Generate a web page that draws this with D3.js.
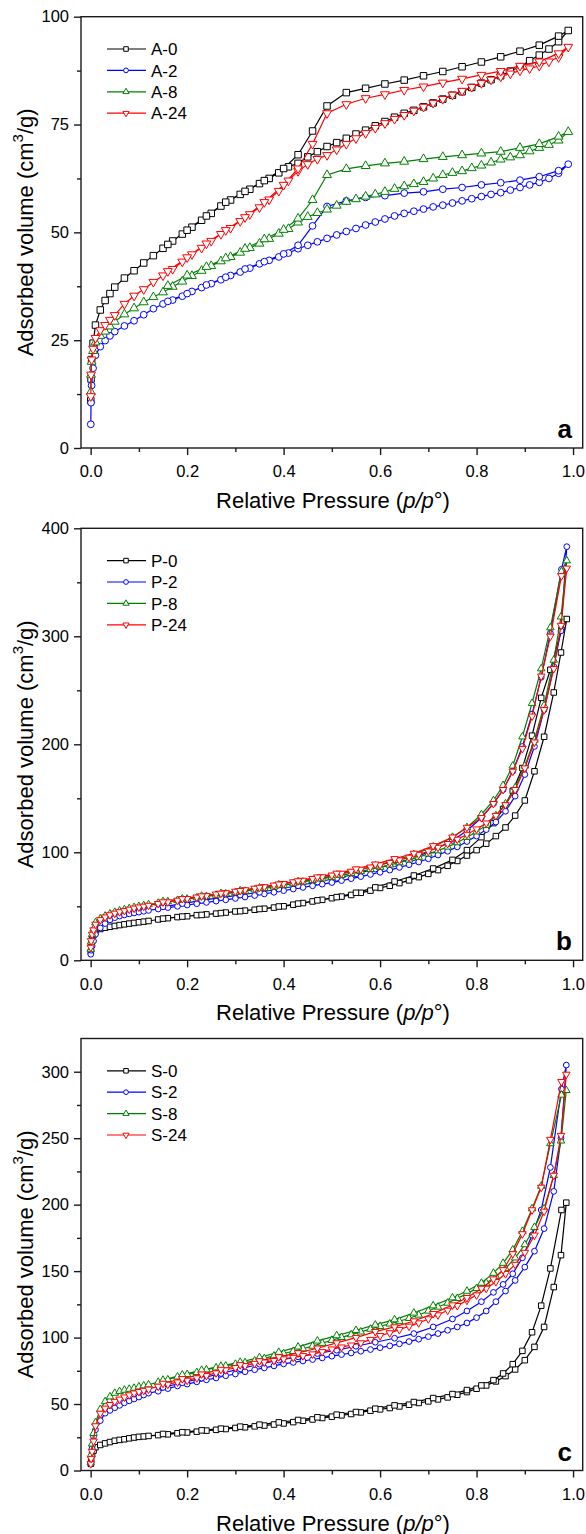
<!DOCTYPE html>
<html><head><meta charset="utf-8">
<script src="https://cdn.jsdelivr.net/npm/d3@7"></script>
<style>
body{margin:0;background:#fff}
svg{display:block}
text{font-family:"Liberation Sans",Arial,Helvetica,sans-serif;fill:#000}
</style>
</head><body>
<svg id="chart" width="586" height="1534"></svg>
<script>
// ---------------- DATA ----------------
// Panel a (A samples)
const adsP_A = [0.0003,0.0008,0.002,0.005,0.01,0.02,0.03,0.04,0.05,0.07,0.09,0.11,0.13,0.15,0.17,0.19,0.21,0.23,0.25,0.27,0.29,0.31,0.33,0.35,0.37,0.39,0.41,0.43,0.45,0.47,0.49,0.51,0.53,0.55,0.57,0.59,0.61,0.63,0.65,0.67,0.69,0.71,0.73,0.75,0.77,0.79,0.81,0.83,0.85,0.87,0.89,0.91,0.93,0.95,0.97,0.99];
const desP_A = [0.97,0.93,0.89,0.85,0.81,0.77,0.73,0.69,0.65,0.61,0.57,0.53,0.49,0.46,0.43,0.40,0.36,0.32,0.28,0.24,0.20,0.16];
const A0_ads = [11,16,20.5,24.3,28.5,32,34.2,35.8,37.3,39.4,41.1,42.9,44.6,46.3,48.0,49.6,51.2,52.8,54.4,56.1,57.5,58.8,60.0,61.3,62.5,63.8,65.2,66.0,67.5,68.7,69.9,70.8,71.8,72.8,73.7,74.7,75.7,76.7,77.6,78.3,79.1,80.0,80.9,81.8,82.6,83.6,84.6,85.4,86.3,87.4,88.4,89.8,91.1,92.5,94.2,96.8];
const A0_des = [95.5,93.4,92.0,90.7,89.5,88.4,87.3,86.3,85.3,84.4,83.4,82.4,79.3,73.5,68.0,64.8,62.0,59.5,57.0,53.8,50.5,47.2];
const A2_ads = [5.5,10.5,14.5,18.5,21.5,23.5,24.9,26.0,27.0,28.3,29.5,30.9,32.3,33.4,34.3,35.2,36.3,37.2,38.1,39.0,40.0,40.8,41.7,42.7,43.5,44.3,45.2,46.2,47.0,47.8,48.6,49.4,50.2,50.9,51.7,52.4,53.1,53.8,54.4,54.9,55.4,55.9,56.3,56.8,57.3,57.8,58.3,58.8,59.2,59.8,60.4,61.0,61.6,62.5,63.7,65.8];
const A2_des = [64.3,62.9,62.1,61.5,61.0,60.4,60.0,59.4,59.1,58.5,58.1,57.3,56.0,51.5,47.0,45.0,43.2,41.5,39.6,37.8,35.8,34.0];
const A8_ads = [13,17,20,22.5,24.5,26,27,28.2,29.3,31.0,32.4,33.8,35.0,36.1,37.4,38.6,39.9,41.1,42.2,43.3,44.3,45.3,46.4,47.4,48.5,49.7,50.8,52.3,53.6,54.5,55.3,56.2,57.1,57.7,58.3,58.8,59.4,60.1,60.7,61.2,61.7,62.5,63.3,63.8,64.2,64.9,65.5,66.2,66.9,67.4,67.9,68.8,69.6,70.3,71.3,73.3];
const A8_des = [72.2,70.5,69.6,68.7,68.3,67.9,67.5,67.0,66.4,66.0,65.4,64.7,63.3,57.5,53.2,50.6,48.4,46.2,44.0,42.0,40.0,37.6];
const A24_ads = [12,17,20.5,23,25.5,27.3,28.5,29.7,30.8,33.4,35.3,36.8,38.5,40.0,41.5,43.2,44.9,46.4,48.0,49.6,51.0,52.6,54.2,55.8,57.6,59.6,62.0,64.2,65.8,67.0,67.9,69.2,70.5,71.8,73.0,74.2,75.3,76.3,77.2,78.2,79.1,80.0,80.9,81.9,82.8,83.7,84.6,85.4,86.1,86.8,87.5,88.0,88.6,89.6,90.6,93.0];
const A24_des = [91.5,89.6,88.6,87.4,86.5,85.6,84.7,83.8,83.0,82.0,81.1,79.7,77.6,70.5,64.8,61.0,57.0,53.5,50.5,47.4,44.2,41.0];

// Panel b (P samples)
const adsP_P = [0.0003,0.001,0.003,0.006,0.01,0.02,0.03,0.04,0.05,0.06,0.07,0.08,0.09,0.10,0.11,0.12,0.14,0.16,0.18,0.20,0.22,0.24,0.26,0.28,0.30,0.32,0.34,0.36,0.38,0.40,0.42,0.44,0.46,0.48,0.50,0.52,0.54,0.56,0.58,0.60,0.62,0.64,0.66,0.68,0.70,0.72,0.74,0.76,0.78,0.80,0.82,0.84,0.86,0.88,0.90,0.92,0.94,0.96,0.975,0.987];
const desP_P = [0.976,0.953,0.934,0.915,0.895,0.875,0.855,0.835,0.81,0.78,0.75,0.71,0.67,0.63,0.59,0.55,0.51,0.47,0.43,0.39,0.35,0.31,0.27,0.23,0.19,0.15];
const P0_ads = [8,15,20,23.5,26.5,29,30.2,31,31.8,32.6,33.3,34,34.6,35.2,35.8,36.4,37.8,39.0,40.0,40.8,41.8,42.5,43.2,44.2,45.2,46.0,46.8,47.8,48.8,50.0,51.5,53.0,54.5,56,57.5,59,60.5,62.5,64.5,67,69,71.5,74,77,80,83.5,87.5,92,97,102,108,115,123,134,148,175,207,248,285,316];
const P0_des = [306,269,243,208,178,157,140,127,114,102,93,85,78.5,73,67.5,62.5,58.5,55.5,52.5,49.8,47.5,45.5,43.7,42,40.5,38.6];
const P2_ads = [5.6,9.3,13.3,17.9,24,30,34,37.5,39.5,41,42,43,43.8,44.6,45.4,46.2,47.5,48.8,50.0,51.2,52.4,53.6,54.8,56,57.3,58.6,60,61.5,63,64.5,66,67.5,69,70.5,72,73.8,75.6,77.5,79.5,81.5,83.5,86,88.5,91,94,97.5,101,105,110,115,121,128,138,152,172,198,232,272,305,383];
const P2_des = [362,303,262,228,198,175,158,145,132,120,111,102,95,89.5,84.5,80,76,72.5,69,66,63,60.5,58,55.5,52.5,49.5];
const P8_ads = [10,17,24,29,34.9,38.5,41,43,44.5,45.8,47,48,49,50,50.8,51.6,53,54.4,55.6,56.8,58,59.2,60.4,61.6,62.8,64,65.3,66.6,68,69.5,71,72.5,74,75.5,77,78.7,80.5,82.3,84.2,86.2,88.3,90.5,93,95.5,98.5,101.5,105,109,114,119,125,134,145,160,180,204,236,278,318,370];
const P8_des = [360,308,270,238,207,180,162,148,135,123,114,105,98,92.5,87.5,83,79,75.5,73,70,67,64.5,62,59.5,57,54.5];
const P24_ads = [12,18,24,28,33.3,37.5,40,42,43.5,44.8,46,47.2,48.2,49.2,50,50.8,52.4,54,55.5,57,58.4,59.8,61.2,62.5,63.8,65.2,66.6,68,69.5,71,72.5,74,75.6,77.2,78.8,80.5,82.3,84.2,86.2,88.3,90.5,92.8,95.3,98,101,104.5,108,112,116.5,121.5,127,134,144,158,178,202,232,270,310,363];
const P24_des = [356,300,263,226,196,175,158,145,132,123,114,106,99,94,89,84.5,80.5,77,73.5,70.5,67.5,64.5,62,59.5,57,54];

// Panel c (S samples)
const adsP_S = [0.0003,0.001,0.003,0.006,0.01,0.02,0.03,0.04,0.05,0.06,0.07,0.08,0.09,0.10,0.11,0.12,0.14,0.16,0.18,0.20,0.22,0.24,0.26,0.28,0.30,0.32,0.34,0.36,0.38,0.40,0.42,0.44,0.46,0.48,0.50,0.52,0.54,0.56,0.58,0.60,0.62,0.64,0.66,0.68,0.70,0.72,0.74,0.76,0.78,0.80,0.82,0.84,0.86,0.88,0.90,0.92,0.94,0.96,0.975,0.986];
const desP_S = [0.976,0.953,0.934,0.915,0.895,0.875,0.855,0.835,0.81,0.78,0.75,0.71,0.67,0.63,0.59,0.55,0.51,0.47,0.43,0.39,0.35,0.31,0.27,0.23,0.19,0.15];
const S0_ads = [5,8,12,15,17.5,19.2,20.4,21.4,22.4,23,23.5,24.2,24.8,25.3,25.6,26,26.6,27.2,28,28.6,29.2,30,30.6,31.2,32,32.5,33.2,33.8,34.6,35.4,36.4,37.4,38.4,39.5,40.5,41.5,42.5,43.7,45,46,47,48.2,49.5,50.8,52,53.5,55,57,59,61.5,64,67,71,76,83,93,108,138,162,201.5];
const S0_des = [196,152,124,104,90,80,73,68,64,60.5,57.5,54.5,51.5,49,46.5,44,42,40,38,36.2,34.5,33,31.5,30.2,28.8,27.5];
const S2_ads = [5,10,16.7,25.5,30.6,37.5,43.1,45.2,47.2,49,50.9,52.4,53.8,55.3,56.8,58.2,59.6,61.6,63.6,65,66.7,68.2,69.6,71.3,72.6,74.3,75.8,77.2,78.7,80.2,81.3,82.4,83.5,84.7,86,87.2,88.4,89.7,91,92.4,93.8,95.3,97,98.8,100.7,103,105.5,108,111,115,120,127,135,143,153,165,182,210,250,305];
const S2_des = [287,228,196,177,160,148,140,134,127,120,114,108,103,99.5,96.5,93.5,90.5,88,85.5,83,80,76.5,73,69.5,66,62.5];
const S8_ads = [6,12,20,28,36,46,51.9,55.5,58.2,59.5,60.5,61.2,62,63,63.8,64.5,66.5,68.3,70.5,72.3,73.8,75.8,77.3,78.7,80,81.2,82.5,84.3,86.2,88,89.7,91.6,93.6,95.8,98,100.2,102.2,104.3,106.4,108.5,110.3,112.3,114.5,117,120,123,126,129.5,133,137,141,146,152,160,170,183,197,222,248,286];
const S8_des = [282.5,246,214,197,180,166,156,148.5,141,135,130,124,118.5,113.5,109.5,105.5,101.5,97.5,93,89,85,81.5,78.5,75.5,72,68];
const S24_ads = [5,9,14.3,22,33.5,43,46.8,49.5,51.9,53.6,55.2,56.8,58.2,59.3,60.2,61.1,63.3,64.8,66.5,67.8,69.6,71.4,73.4,75.6,77.3,78.8,80.5,81.5,82.7,83.9,85,86.3,87.6,89.3,91.3,92.8,94.3,96,98.5,101.4,103.5,106,108.5,111,114,117,120.5,124,128,132,137,142,148,155,164,177,195,222,252,298];
const S24_des = [292.5,249,213,196,178,163,151,144,137,130,124.5,118,112.5,108,104.5,100,96,92,88.5,85.5,82.5,79.5,76,72.5,69,65.5];

// Labels / ticks
const namesA = ["A-0","A-2","A-8","A-24"];
const namesP = ["P-0","P-2","P-8","P-24"];
const namesS = ["S-0","S-2","S-8","S-24"];
const xTicks = [0,0.2,0.4,0.6,0.8,1.0];
const xMinor = [0.1,0.3,0.5,0.7,0.9];
const yTicksA = [0,25,50,75,100];
const yMinorA = [12.5,37.5,62.5,87.5];
const yTicksP = [0,100,200,300,400];
const yMinorP = [50,150,250,350];
const yTicksS = [0,50,100,150,200,250,300];
const yMinorS = [25,75,125,175,225,275];

// ---------------- STYLE / LAYOUT ----------------
const colors = ["#000000","#0000FF","#008000","#FF0000"];
const symTypes = ["square","circle","triangle","triangleDown"];

const panels = [
  {label:"a", yMax:100, top:16.7, bottom:448, yTicks:yTicksA, yMinor:yMinorA, names:namesA, adsP:adsP_A, desP:desP_A,
   ads:[A0_ads,A2_ads,A8_ads,A24_ads], des:[A0_des,A2_des,A8_des,A24_des], ms:1.0},
  {label:"b", yMax:400, top:528.3, bottom:960.3, yTicks:yTicksP, yMinor:yMinorP, names:namesP, adsP:adsP_P, desP:desP_P,
   ads:[P0_ads,P2_ads,P8_ads,P24_ads], des:[P0_des,P2_des,P8_des,P24_des], ms:0.85},
  {label:"c", yMax:325, top:1038.5, bottom:1470.5, yTicks:yTicksS, yMinor:yMinorS, names:namesS, adsP:adsP_S, desP:desP_S,
   ads:[S0_ads,S2_ads,S8_ads,S24_ads], des:[S0_des,S2_des,S8_des,S24_des], ms:0.85}
];

const svg = d3.select("#chart");
const x = d3.scaleLinear().domain([-0.02,1.02]).range([81,582.7]);

function symbolPath(type, s){
  if(type==="square") return d3.symbol(d3.symbolSquare, 42*s*s)();
  if(type==="circle") return d3.symbol(d3.symbolCircle, 36*s*s)();
  return d3.symbol(d3.symbolTriangle, 34*s*s)();
}
function symbolTransform(type, px, py){
  return type==="triangleDown" ? `translate(${px},${py}) rotate(180)` : `translate(${px},${py})`;
}

panels.forEach(P=>{
  const y = d3.scaleLinear().domain([0,P.yMax]).range([P.bottom,P.top]);
  const g = svg.append("g");

  // axes
  const xAx = g.append("g").attr("transform",`translate(0,${P.bottom})`)
    .call(d3.axisBottom(x).tickValues(xTicks).tickSize(7).tickPadding(10.5).tickFormat(d3.format(".1f")));
  const xAxMin = g.append("g").attr("transform",`translate(0,${P.bottom})`)
    .call(d3.axisBottom(x).tickValues(xMinor).tickSize(4).tickFormat(""));
  const yAx = g.append("g").attr("transform",`translate(81,0)`)
    .call(d3.axisLeft(y).tickValues(P.yTicks).tickSize(7).tickPadding(5).tickFormat(d3.format("d")));
  const yAxMin = g.append("g").attr("transform",`translate(81,0)`)
    .call(d3.axisLeft(y).tickValues(P.yMinor).tickSize(4).tickFormat(""));
  [xAx,xAxMin,yAx,yAxMin].forEach(a=>{
    a.select(".domain").remove();
    a.selectAll("line").attr("stroke","#1a1a1a").attr("stroke-width",1.4);
    a.selectAll("text").attr("font-size","16.5px").attr("fill","#000")
      .attr("font-family",'"Liberation Sans",Arial,sans-serif');
  });

  // frame
  g.append("rect").attr("x",81).attr("y",P.top).attr("width",582.7-81).attr("height",P.bottom-P.top)
    .attr("fill","none").attr("stroke","#1a1a1a").attr("stroke-width",1.4);

  // series
  const line = d3.line().x(d=>x(d[0])).y(d=>y(d[1]));
  P.ads.forEach((adsV,i)=>{
    const pts = P.adsP.map((p,k)=>[p,adsV[k]]).concat(P.desP.map((p,k)=>[p,P.des[i][k]]));
    const sg = g.append("g");
    sg.append("path").attr("d",line(pts)).attr("fill","none").attr("stroke",colors[i]).attr("stroke-width",1.2);
    sg.selectAll("path.m").data(pts).join("path").attr("class","m")
      .attr("d",symbolPath(symTypes[i],P.ms))
      .attr("transform",d=>symbolTransform(symTypes[i],x(d[0]),y(d[1])))
      .attr("fill","#fff").attr("stroke",colors[i]).attr("stroke-width",1);
  });

  // legend
  const lg = g.append("g");
  P.names.forEach((n,i)=>{
    const ly = P.top + 32.3 + i*21.4;
    lg.append("line").attr("x1",107).attr("x2",146).attr("y1",ly).attr("y2",ly)
      .attr("stroke",colors[i]).attr("stroke-width",1.2);
    lg.append("path").attr("d",symbolPath(symTypes[i],0.7))
      .attr("transform",symbolTransform(symTypes[i],126,ly))
      .attr("fill","#fff").attr("stroke",colors[i]).attr("stroke-width",1);
    lg.append("text").attr("x",151).attr("y",ly).attr("dy","0.36em").attr("font-size","17px").text(n);
  });

  // panel letter
  g.append("text").attr("x",572).attr("y",P.bottom-10).attr("text-anchor","end")
    .attr("font-size","26px").attr("font-weight","bold").text(P.label);

  // x title
  const xt = g.append("text").attr("x",333).attr("y",P.bottom+60).attr("text-anchor","middle").attr("font-size","22px");
  xt.append("tspan").text("Relative Pressure (");
  xt.append("tspan").attr("font-style","italic").text("p/p");
  xt.append("tspan").text("\u00B0)");

  // y title
  const cy = (P.top+P.bottom)/2;
  const yt = g.append("text").attr("transform",`translate(33,${cy}) rotate(-90)`).attr("text-anchor","middle").attr("font-size","22px");
  yt.append("tspan").text("Adsorbed volume (cm");
  yt.append("tspan").attr("font-size","15px").attr("dy","-10").text("3");
  yt.append("tspan").attr("dy","10").text("/g)");
});
</script>
</body></html>
